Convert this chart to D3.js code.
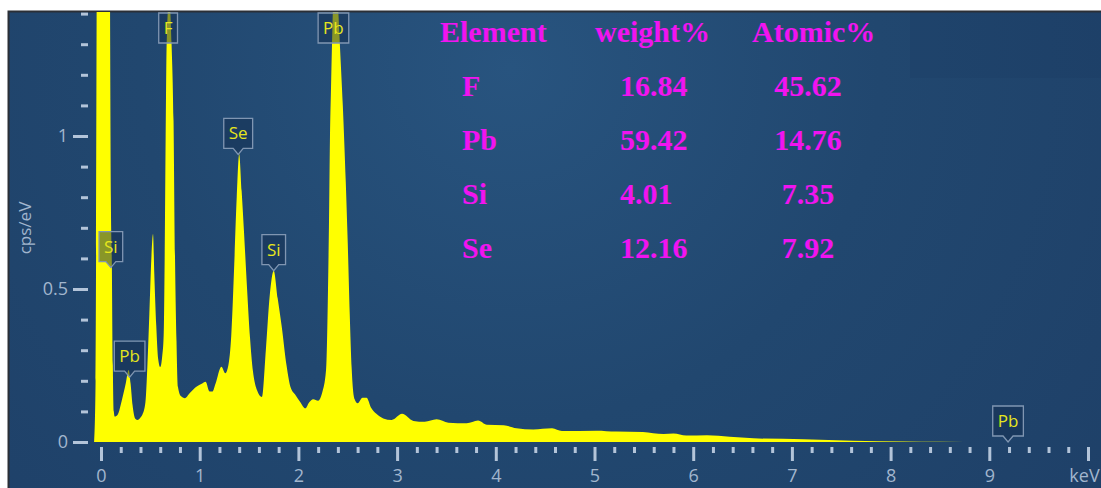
<!DOCTYPE html>
<html>
<head>
<meta charset="utf-8">
<script src="https://cdn.jsdelivr.net/npm/d3@7"></script>
<style>
  body { margin: 0; background: #fff; }
  svg { display: block; }
</style>
</head>
<body>
<div id="chart"></div>
<script>
// spectrum: energy (keV) and counts (cps/eV)
const energy = [-0.07, -0.055, -0.04, -0.02, 0.05, 0.085, 0.10, 0.11, 0.12, 0.13,
  0.14, 0.17, 0.21, 0.25, 0.28, 0.30, 0.32, 0.35, 0.37, 0.40,
  0.42, 0.45, 0.47, 0.49, 0.51, 0.527, 0.54, 0.56, 0.58, 0.60,
  0.62, 0.635, 0.645, 0.655, 0.665, 0.69, 0.715, 0.735, 0.75, 0.765,
  0.78, 0.81, 0.85, 0.90, 0.97, 1.02, 1.06, 1.10, 1.13, 1.16,
  1.22, 1.26, 1.29, 1.32, 1.35, 1.375, 1.40, 1.425, 1.45, 1.48,
  1.51, 1.54, 1.58, 1.63, 1.67, 1.71, 1.75, 1.79, 1.83, 1.88,
  1.92, 1.97, 2.02, 2.07, 2.11, 2.15, 2.20, 2.24, 2.28, 2.30,
  2.31, 2.32, 2.33, 2.35, 2.37, 2.39, 2.42, 2.45, 2.48, 2.50,
  2.52, 2.54, 2.57, 2.60, 2.65, 2.69, 2.74, 2.79, 2.86, 2.945,
  3.05, 3.165, 3.28, 3.40, 3.52, 3.705, 3.82, 3.91, 4.08, 4.21,
  4.38, 4.57, 4.67, 5.02, 5.22, 5.49, 5.70, 5.80, 5.93, 6.14,
  6.37, 6.61, 7.12, 7.62, 8.13, 8.5, 9.0, 10.15];
const counts = [0, 0.2, 2.0, 4.0, 4.0, 2.0, 0.8, 0.58, 0.25, 0.1,
  0.083, 0.09, 0.135, 0.19, 0.235, 0.19, 0.12, 0.075, 0.072, 0.08,
  0.09, 0.13, 0.25, 0.42, 0.6, 0.68, 0.55, 0.38, 0.27, 0.245,
  0.28, 0.35, 0.6, 1.0, 1.3, 1.45, 1.3, 1.05, 0.6, 0.33,
  0.18, 0.15, 0.143, 0.16, 0.181, 0.19, 0.197, 0.165, 0.165, 0.19,
  0.246, 0.225, 0.25, 0.35, 0.58, 0.8, 0.94, 0.82, 0.68, 0.5,
  0.34, 0.23, 0.17, 0.147, 0.3, 0.48, 0.56, 0.47, 0.38, 0.25,
  0.18, 0.154, 0.13, 0.11, 0.13, 0.14, 0.135, 0.16, 0.235, 0.5,
  0.72, 1.0, 1.15, 1.42, 1.6, 1.5, 1.3, 1.1, 0.85, 0.65,
  0.42, 0.24, 0.14, 0.127, 0.145, 0.145, 0.11, 0.092, 0.077, 0.072,
  0.092, 0.069, 0.066, 0.074, 0.063, 0.061, 0.07, 0.056, 0.055, 0.045,
  0.041, 0.045, 0.036, 0.037, 0.034, 0.033, 0.026, 0.028, 0.021, 0.022,
  0.017, 0.012, 0.009, 0.004, 0.002, 0.001, 0, 0];

const markerNames = ["Si", "Pb", "F", "Se", "Si", "Pb", "Pb"];
const markerEnergy = [0.10, 0.29, 0.68, 1.39, 1.75, 2.355, 9.19];
const markerHeight = [0.57, 0.212, 2, 0.94, 0.56, 2, 0];

const tableHeader = ["Element", "weight%", "Atomic%"];
const tableElements = ["F", "Pb", "Si", "Se"];
const weightPct = ["16.84", "59.42", "4.01", "12.16"];
const atomicPct = ["45.62", "14.76", "7.35", "7.92"];

const xMajorTicks = d3.range(0, 11);
const xMinorTicks = d3.range(0, 51).filter(i => i % 5).map(i => i / 5);
const yMajorTicks = [0, 0.5, 1];
const yMinorTicks = d3.range(0, 15).filter(i => i % 5).map(i => i / 10);

const W = 1101, H = 488;
const panel = {left: 8, top: 11};
const data = energy.map((e, i) => ({e: e, v: counts[i]}));

const svg = d3.select("#chart").append("svg")
    .attr("width", W)
    .attr("height", H);

const defs = svg.append("defs");
const grad = defs.append("radialGradient")
    .attr("id", "bg")
    .attr("cx", "0.46").attr("cy", "0.12").attr("r", "0.75")
    .attr("gradientTransform", "translate(0.46,0.12) scale(1,2.2) translate(-0.46,-0.12)");
grad.append("stop").attr("offset", "0%").attr("stop-color", "#28547f");
grad.append("stop").attr("offset", "45%").attr("stop-color", "#21476f");
grad.append("stop").attr("offset", "100%").attr("stop-color", "#1e3f67");

defs.append("clipPath").attr("id", "plotclip")
  .append("rect")
    .attr("x", panel.left + 1).attr("y", panel.top + 1)
    .attr("width", W - panel.left).attr("height", 443 - panel.top);

svg.append("rect")
    .attr("x", panel.left).attr("y", panel.top)
    .attr("width", W - panel.left).attr("height", H - panel.top)
    .attr("fill", "url(#bg)");

svg.append("rect")
    .attr("x", 910).attr("y", panel.top + 1)
    .attr("width", W - 910).attr("height", 66)
    .attr("fill", "#1a3960").attr("opacity", 0.2);

svg.append("path")
    .attr("d", `M${panel.left + 0.5},${H} V${panel.top + 0.5} H${W}`)
    .attr("fill", "none")
    .attr("stroke", "#2b2f36")
    .attr("stroke-width", 2);

const x = d3.scaleLinear().domain([0, 10]).range([101, 1088]);
const y = d3.scaleLinear().domain([0, 1]).range([442, 136]);

const area = d3.area()
    .x(d => x(d.e))
    .y0(y(0))
    .y1(d => y(d.v))
    .curve(d3.curveMonotoneX);

svg.append("path")
    .datum(data)
    .attr("clip-path", "url(#plotclip)")
    .attr("fill", "#ffff00")
    .attr("d", area);

const tickColor = "#b3c4d9", labelColor = "#a2b6ce";

function styleAxis(g) {
  g.select(".domain").remove();
  g.selectAll(".tick line").attr("stroke", tickColor).attr("stroke-width", 3);
  g.selectAll(".tick text")
      .attr("fill", labelColor)
      .style("font-family", "'Open Sans', sans-serif")
      .style("font-size", "18px");
}

svg.append("g")
    .attr("transform", "translate(0,447)")
    .call(d3.axisBottom(x).tickValues(xMinorTicks).tickSize(6).tickFormat(""))
    .call(styleAxis);
svg.append("g")
    .attr("transform", "translate(0,447)")
    .call(d3.axisBottom(x).tickValues(xMajorTicks).tickSize(14).tickPadding(8)
      .tickFormat(d => d === 10 ? "keV" : d))
    .call(styleAxis)
    .selectAll(".tick text").attr("dx", d => d === 10 ? -4 : 0);

svg.append("g")
    .attr("transform", "translate(88,0)")
    .call(d3.axisLeft(y).tickValues(yMinorTicks).tickSize(7).tickFormat(""))
    .call(styleAxis);
svg.append("g")
    .attr("transform", "translate(88,0)")
    .call(d3.axisLeft(y).tickValues(yMajorTicks).tickSize(15).tickPadding(5)
      .tickFormat(d => String(d)))
    .call(styleAxis);

svg.append("text")
    .attr("transform", "translate(31,228) rotate(-90)")
    .attr("text-anchor", "middle")
    .attr("fill", labelColor)
    .style("font-family", "'Open Sans', sans-serif")
    .style("font-size", "17px")
    .text("cps/eV");

// element markers
const markers = svg.append("g").selectAll("g")
    .data(markerNames.map((n, i) => ({name: n, e: markerEnergy[i], v: markerHeight[i]})))
    .enter().append("g");

markers.each(function(d) {
  const g = d3.select(this);
  const cx = x(d.e);
  const t = g.append("text")
      .attr("text-anchor", "middle")
      .attr("fill", "#e6e61c")
      .style("font-family", "'Open Sans', sans-serif")
      .style("font-size", "17px")
      .text(d.name);
  const tw = t.node().getComputedTextLength();
  const bw = tw + 10, bh = 30;
  const tip = y(d.v);
  let top = tip - 6 - bh;
  const clamped = top < 13;
  if (clamped) top = 13;
  const l = cx - bw / 2, r = cx + bw / 2, b = top + bh;
  const p = clamped
    ? `M${l},${top}H${r}V${b}H${l}Z`
    : `M${l},${top}H${r}V${b}H${cx + 5}L${cx},${tip}L${cx - 5},${b}H${l}Z`;
  g.insert("path", "text")
      .attr("d", p)
      .attr("fill", "rgb(20,45,80)")
      .attr("fill-opacity", 0.5)
      .attr("stroke", "#8096b2")
      .attr("stroke-width", 1.3);
  t.attr("x", cx).attr("y", top + bh / 2 + 6);
});

// composition table
const table = svg.append("g")
    .attr("fill", "#f014f0")
    .style("font-family", "'Liberation Serif', 'Times New Roman', serif")
    .style("font-weight", "bold")
    .style("font-size", "30px");

const headerX = [440, 595, 752];
table.selectAll(".head")
    .data(tableHeader)
    .enter().append("text")
    .attr("class", "head")
    .attr("x", (d, i) => headerX[i])
    .attr("y", 42)
    .text(d => d);

const rowY = i => 96 + i * 54;
table.selectAll(".el")
    .data(tableElements)
    .enter().append("text")
    .attr("class", "el")
    .attr("x", 462)
    .attr("y", (d, i) => rowY(i))
    .text(d => d);
table.selectAll(".wt")
    .data(weightPct)
    .enter().append("text")
    .attr("class", "wt")
    .attr("x", 620)
    .attr("y", (d, i) => rowY(i))
    .text(d => d);
table.selectAll(".at")
    .data(atomicPct)
    .enter().append("text")
    .attr("class", "at")
    .attr("x", 808)
    .attr("text-anchor", "middle")
    .attr("y", (d, i) => rowY(i))
    .text(d => d);
</script>
</body>
</html>
